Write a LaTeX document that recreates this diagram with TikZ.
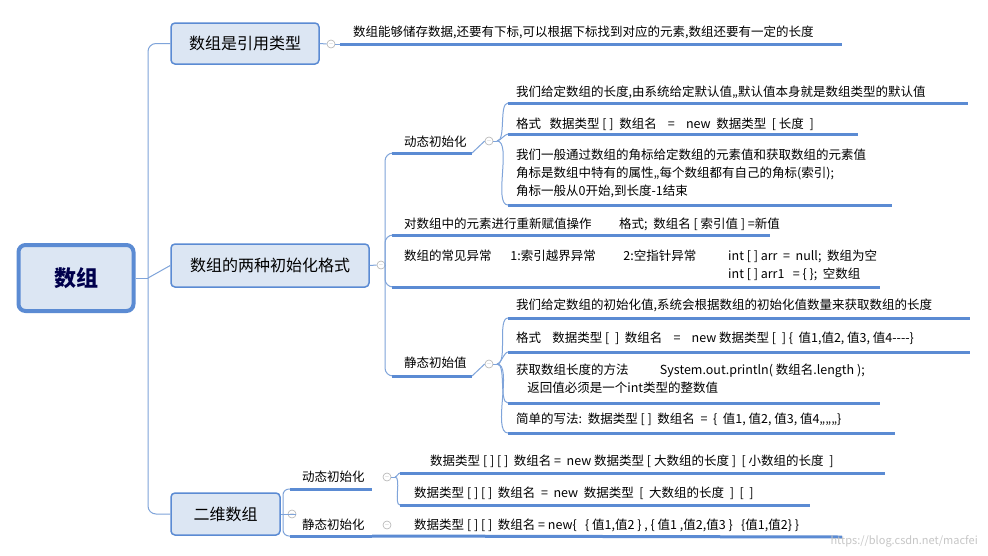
\documentclass[tikz,border=0pt]{standalone}
\usepackage{fontspec}
\setmainfont{Noto Sans CJK SC}
\begin{document}
\begin{tikzpicture}[x=1pt,y=-1pt,
  uline/.style={draw=lineblue,line width=3pt},
  conn/.style={draw=connblue,line width=1pt},
  leaf/.style={anchor=north west,inner sep=0pt,yshift=-2pt,font=\fontsize{12.5}{18}\selectfont,align=left},
  branch/.style={draw=boxblue,line width=1.5pt,fill=boxfill,rounded corners=4pt,font=\fontsize{16}{18}\selectfont,inner sep=0pt},
  tog/.style={circle,draw=gray!60,line width=0.6pt,minimum size=8pt,inner sep=0pt,font=\tiny,text=gray!70,fill=white}]
\definecolor{lineblue}{HTML}{5B8BD3}
\definecolor{connblue}{HTML}{7FA4DA}
\definecolor{boxblue}{HTML}{5B8BD3}
\definecolor{boxfill}{HTML}{DCE6F3}
\useasboundingbox (0,0) rectangle (988,555);
\fill[white] (0,0) rectangle (988,555);
% root
\node[draw=boxblue,line width=4pt,fill=boxfill,rounded corners=7pt,minimum width=115pt,minimum height=66pt,font=\fontsize{22}{24}\selectfont\bfseries,text=black!70!blue] (root) at (76,278) {数组};
% branches
\node[branch,minimum width=148pt,minimum height=41pt] (b1) at (245,43.5) {数组是引用类型};
\node[branch,minimum width=198pt,minimum height=43pt] (b2) at (270,265.5) {数组的两种初始化格式};
\node[branch,minimum width=109pt,minimum height=42pt] (b3) at (225.5,514) {二维数组};
\coordinate (rj) at (148,278);
\draw[conn] (root.east) -- (rj);
\draw[conn,rounded corners=8pt] (rj) |- (b1.west);
\draw[conn,rounded corners=8pt] (rj) |- (b3.west);
\draw[conn] (rj) -- (b2.west);
% toggles
\node[tog] (t1) at (331,44) {$-$};
\node[tog] (t2) at (381,265) {$-$};
\node[tog] (t3) at (292,514) {$-$};
\draw[conn] (b1.east) -- (t1.west);
\draw[conn] (b2.east) -- (t2.west);
\draw[conn] (b3.east) -- (t3.west);
% branch 1 leaf
\coordinate (l1a) at (340,44); \coordinate (l1b) at (842,44);
\draw[conn] (t1.east) -- (l1a);
\draw[uline] (l1a) -- (l1b);
\node[leaf] (l1) at (353,24) {数组能够储存数据,还要有下标,可以根据下标找到对应的元素,数组还要有一定的长度};
% branch 2 children
\coordinate (v2) at (385,265);
\coordinate (d1a) at (392,153); \coordinate (d1b) at (472,153);
\coordinate (d2a) at (392,235); \coordinate (d2b) at (770,235);
\coordinate (d3a) at (392,287); \coordinate (d3b) at (880,287);
\coordinate (d4a) at (392,376); \coordinate (d4b) at (472,376);
\draw[conn] (t2.east) -- (v2);
\draw[conn,rounded corners=8pt] (d1a) -| (v2) |- (d4a);
\draw[conn,rounded corners=8pt] (v2) |- (d2a);
\draw[conn,rounded corners=8pt] (v2) |- (d3a);
\foreach \a/\b in {d1a/d1b,d2a/d2b,d3a/d3b,d4a/d4b} \draw[uline] (\a) -- (\b);
\node[leaf] (n1) at (404,134) {动态初始化};
\node[leaf] (n2) at (404,216) {对数组中的元素进行重新赋值操作\hspace{2.2em}格式;\ \ 数组名 [ 索引值 ] =新值};
\node[leaf] (n3) at (404,248) {数组的常见异常\hspace{1.5em}1:索引越界异常\hspace{2.2em}2:空指针异常};
\node[leaf] (n3b) at (728,248) {int [ ] arr \ = \ null;\ \ 数组为空\\int [ ] arr1 \ \ = \{ \};\ \ 空数组};
\node[leaf] (n4) at (404,355) {静态初始值};
% dynamic init leaves
\node[tog] (t4) at (489,141) {$-$};
\node[tog] (t5) at (489,364) {$-$};
\draw[conn] (d1b) -- (t4.west);
\draw[conn] (d4b) -- (t5.west);
\coordinate (p4) at (497,141);
\coordinate (a1) at (508,103); \coordinate (a1b) at (968,103);
\coordinate (a2) at (508,134); \coordinate (a2b) at (858,134);
\coordinate (a3) at (508,205); \coordinate (a3b) at (892,205);
\draw[conn] (t4.east) -- (p4);
\foreach \c in {a1,a2,a3} \draw[conn] (p4) to[out=0,in=180,looseness=0.6] (\c);
\foreach \a/\b in {a1/a1b,a2/a2b,a3/a3b} \draw[uline] (\a) -- (\b);
\node[leaf] at (516,84) {我们给定数组的长度,由系统给定默认值,,默认值本身就是数组类型的默认值};
\node[leaf] at (516,116) {格式\ \ \ 数据类型 [ ]\ \ 数组名\ \ \ \ =\ \ \ \ new\ \ 数据类型\ \ [ 长度\ \ ]};
\node[leaf] at (516,147) {我们一般通过数组的角标给定数组的元素值和获取数组的元素值\\角标是数组中特有的属性,,每个数组都有自己的角标(索引);\\角标一般从0开始,到长度-1结束};
% static init leaves
\coordinate (p5) at (497,364);
\coordinate (s1) at (508,318); \coordinate (s1b) at (970,318);
\coordinate (s2) at (508,352); \coordinate (s2b) at (970,352);
\coordinate (s3) at (508,403); \coordinate (s3b) at (880,403);
\coordinate (s4) at (508,433); \coordinate (s4b) at (895,433);
\draw[conn] (t5.east) -- (p5);
\foreach \c in {s1,s2,s3,s4} \draw[conn] (p5) to[out=0,in=180,looseness=0.6] (\c);
\foreach \a/\b in {s1/s1b,s2/s2b,s3/s3b,s4/s4b} \draw[uline] (\a) -- (\b);
\node[leaf] at (516,297) {我们给定数组的初始化值,系统会根据数组的初始化值数量来获取数组的长度};
\node[leaf] at (516,330) {格式\ \ \ \ 数据类型 [\ \ ]\ \ 数组名\ \ \ \ =\ \ \ \ new 数据类型 [\ \ ] \{\ \ 值1,值2, 值3, 值4-{}-{}-{}-\}};
\node[leaf] at (516,362) {获取数组长度的方法\hspace{2.5em}System.out.println( 数组名.length );\\\ \ \ \ 返回值必须是一个int类型的整数值};
\node[leaf] at (516,411) {简单的写法:\ \ 数据类型 [ ]\ \ 数组名\ \ =\ \ \{\ \ 值1, 值2, 值3, 值4,,,,,,\}};
% 二维数组
\coordinate (v3) at (283,514);
\coordinate (e1) at (290,489); \coordinate (e1b) at (372,489);
\coordinate (e2) at (290,536); \coordinate (e2b) at (372,536);
\draw[conn] (t3.east) -- (v3);
\draw[conn,rounded corners=6pt] (e1) -| (v3) |- (e2);
\draw[uline] (e1) -- (e1b);
\draw[uline] (e2) -- (e2b);
\node[leaf] at (302,469) {动态初始化};
\node[leaf] at (302,517) {静态初始化};
\node[tog] (t6) at (387,477) {$-$};
\node[tog] (t7) at (387,525) {$-$};
\coordinate (p6) at (395,477);
\coordinate (f1) at (400,473); \coordinate (f1b) at (885,473);
\coordinate (f2) at (400,505); \coordinate (f2b) at (810,505);
\coordinate (f3b) at (842,537);
\draw[conn] (t6.east) -- (p6);
\draw[conn] (p6) to[out=0,in=180,looseness=0.6] (f1);
\draw[conn] (p6) to[out=0,in=180,looseness=0.6] (f2);
\draw[uline] (f1) -- (f1b);
\draw[uline] (f2) -- (f2b);
\draw[uline] (e2b) -- (f3b);
\node[leaf] at (430,453) {数据类型 [ ] [ ]\ \ 数组名 =\ \ new 数据类型 [ 大数组的长度 ]\ \ [ 小数组的长度\ \ ]};
\node[leaf] at (414,485) {数据类型 [ ] [ ]\ \ 数组名\ \ =\ \ new\ \ 数据类型\ \ [\ \ 大数组的长度\ \ ]\ \ [\ \ ]};
\node[leaf] at (414,517) {数据类型 [ ] [ ]\ \ 数组名 = new\{\ \ \ \{ 值1,值2 \} , \{ 值1 ,值2,值3 \}\ \ \ \{值1,值2\} \}};
\node[anchor=base east,inner sep=0pt,font=\fontsize{11}{13}\selectfont,text=gray!45] at (978,544) {https://blog.csdn.net/macfei};
\end{tikzpicture}
\end{document}
